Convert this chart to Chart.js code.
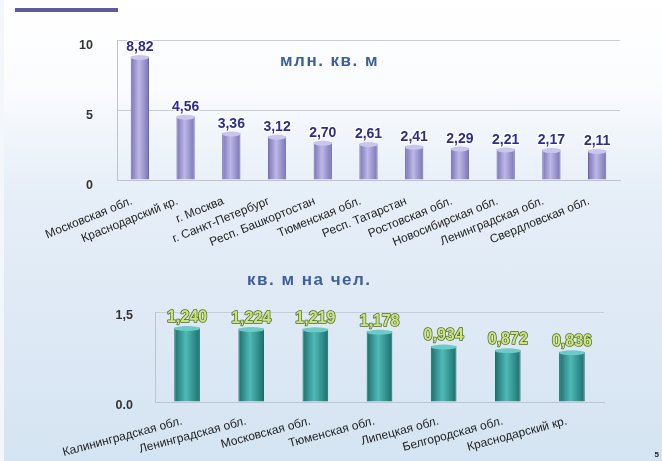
<!DOCTYPE html>
<html>
<head>
<meta charset="utf-8">
<script src="https://cdn.jsdelivr.net/npm/chart.js@4.4.0/dist/chart.umd.min.js"></script>
<style>
  html, body { margin: 0; padding: 0; }
  body {
    width: 662px; height: 461px; position: relative; overflow: hidden;
    background: linear-gradient(to bottom, #ffffff 0%, #fbfcfe 18%, #e6eef8 42%, #d5e4f2 100%);
    font-family: Arial, "Liberation Sans", sans-serif;
  }
  .topline { position: absolute; left: 15px; top: 8px; width: 103px; height: 4px; background: #5f5c9e; }
  .edge { position: absolute; left: 0; top: 0; width: 4px; height: 461px; background: #f3f6fa; }
  .title { position: absolute; font-weight: bold; font-size: 17px; color: #3f5f98; letter-spacing: 1.5px; }
  .num { position: absolute; right: 3px; bottom: 2px; font-size: 8px; font-weight: bold; color: #222; }
  #top { position: absolute; left: 0; top: 0; }
  #bottom { position: absolute; left: 0; top: 250px; }
</style>
</head>
<body>
<div class="edge"></div>
<div class="topline"></div>
<canvas id="top" width="662" height="250"></canvas>
<canvas id="bottom" width="662" height="211"></canvas>
<div class="title" style="left:280px; top:51px;">млн. кв. м</div>
<div class="title" style="left:247px; top:270px;">кв. м на чел.</div>
<div class="num">5</div>
<script>
// площадь ввода жилья, млн. кв. м
const regionsTotal = ['Московская обл.', 'Краснодарский кр.', 'г. Москва', 'г. Санкт-Петербург',
  'Респ. Башкортостан', 'Тюменская обл.', 'Респ. Татарстан', 'Ростовская обл.',
  'Новосибирская обл.', 'Ленинградская обл.', 'Свердловская обл.'];
const valuesTotal = [8.82, 4.56, 3.36, 3.12, 2.70, 2.61, 2.41, 2.29, 2.21, 2.17, 2.11];
const ticksTotal = [0, 5, 10];

// кв. м на человека
const regionsPerCap = ['Калининградская обл.', 'Ленинградская обл.', 'Московская обл.',
  'Тюменская обл.', 'Липецкая обл.', 'Белгородская обл.', 'Краснодарский кр.'];
const valuesPerCap = [1.240, 1.224, 1.219, 1.178, 0.934, 0.872, 0.836];
const ticksPerCap = [0, 1.5];

function cylFill(ctx, edge, mid) {
    const chart = ctx.chart;
    const x = chart.scales && chart.scales.x;
    if (!x || ctx.dataIndex === undefined) return mid;
    const cx = x.getPixelForValue(ctx.dataIndex);
    const w = (x.width / chart.data.labels.length) * 0.4;
    if (!isFinite(cx) || !isFinite(w) || w <= 0) return mid;
    const g = chart.ctx.createLinearGradient(cx - w / 2, 0, cx + w / 2, 0);
    g.addColorStop(0, edge);
    g.addColorStop(0.45, mid);
    g.addColorStop(1, edge);
    return g;
}

const barLabels = {
    id: 'barLabels',
    afterDatasetsDraw(chart, args, opts) {
        const c = chart.ctx;
        const ds = chart.data.datasets[0];
        chart.getDatasetMeta(0).data.forEach((bar, i) => {
            const w = bar.width;
            // верх цилиндра
            c.save();
            c.fillStyle = opts.capColor;
            c.beginPath();
            c.ellipse(bar.x, bar.y + 1, w / 2, 2.5, 0, 0, Math.PI * 2);
            c.fill();
            c.restore();
            // подпись значения
            const txt = ds.data[i].toFixed(opts.digits).replace('.', ',');
            c.save();
            c.font = 'bold ' + opts.size + 'px Arial, "Liberation Sans", sans-serif';
            c.textAlign = 'center';
            c.textBaseline = 'bottom';
            if (opts.stroke) {
                c.lineWidth = opts.strokeW;
                c.strokeStyle = opts.stroke;
                c.lineJoin = 'round';
                c.strokeText(txt, bar.x, bar.y - 2);
            }
            c.fillStyle = opts.color;
            c.fillText(txt, bar.x, bar.y - 2);
            c.restore();
        });
    }
};

function makeChart(id, labels, values, tickVals, cfg) {
    const chart = new Chart(document.getElementById(id), {
        type: 'bar',
        data: {
            labels: labels,
            datasets: [{
                data: values,
                backgroundColor: ctx => cylFill(ctx, cfg.edge, cfg.mid),
                borderColor: cfg.border,
                borderWidth: 1,
                barPercentage: 0.8,
                categoryPercentage: 0.5
            }]
        },
        options: {
            responsive: false,
            animation: false,
            layout: { padding: { top: cfg.top, right: cfg.right, left: 0, bottom: 0 } },
            plugins: {
                legend: { display: false },
                tooltip: { enabled: false },
                barLabels: {
                    digits: cfg.digits, color: cfg.valColor, stroke: cfg.valStroke,
                    strokeW: cfg.strokeW, size: cfg.valSize, capColor: cfg.cap
                }
            },
            scales: {
                x: {
                    grid: { display: false },
                    border: { color: '#c0c4cc' },
                    ticks: {
                        autoSkip: false, minRotation: cfg.rot, maxRotation: cfg.rot,
                        color: '#222', padding: cfg.xPad, labelOffset: cfg.xOffset,
                        font: { family: 'Arial, "Liberation Sans", sans-serif', size: cfg.labelSize }
                    },
                    afterFit: s => { s.height = cfg.xh; }
                },
                y: {
                    min: 0, max: tickVals[tickVals.length - 1],
                    afterBuildTicks: s => { s.ticks = tickVals.map(v => ({ value: v })); },
                    grid: { color: '#c9ccd2', drawTicks: false },
                    border: { color: '#c0c4cc' },
                    ticks: {
                        color: '#333', padding: cfg.tickPad, labelOffset: cfg.labelOffset,
                        font: { family: 'Arial, "Liberation Sans", sans-serif', size: 12.5, weight: 'bold' },
                        callback: v => cfg.fmt(v)
                    },
                    afterFit: s => { s.width = cfg.yw; }
                }
            }
        },
        plugins: [barLabels]
    });
    chart.update('none');
    return chart;
}

makeChart('top', regionsTotal, valuesTotal, ticksTotal, {
    edge: '#7a73b6', mid: '#bdb8e6', border: '#6d67a8', cap: '#c9c5ec',
    digits: 2, valColor: '#2f2e86', valStroke: '#ffffff', strokeW: 2.5, valSize: 14,
    top: 40, right: 42, rot: 22, labelSize: 12, xPad: 6, xOffset: -8, xh: 70, yw: 117, tickPad: 24,
    labelOffset: 6, fmt: v => String(v)
});

makeChart('bottom', regionsPerCap, valuesPerCap, ticksPerCap, {
    edge: '#1c6f6d', mid: '#4fbab6', border: '#1a6664', cap: '#6ccbc6',
    digits: 3, valColor: '#cde67c', valStroke: '#4d6a2a', strokeW: 1.5, valSize: 16,
    top: 62, right: 58, rot: 15, labelSize: 12, xPad: 4, xOffset: -5, xh: 59, yw: 155, tickPad: 22,
    labelOffset: 4, fmt: v => v === 0 ? '0.0' : '1,5'
});
</script>
</body>
</html>
